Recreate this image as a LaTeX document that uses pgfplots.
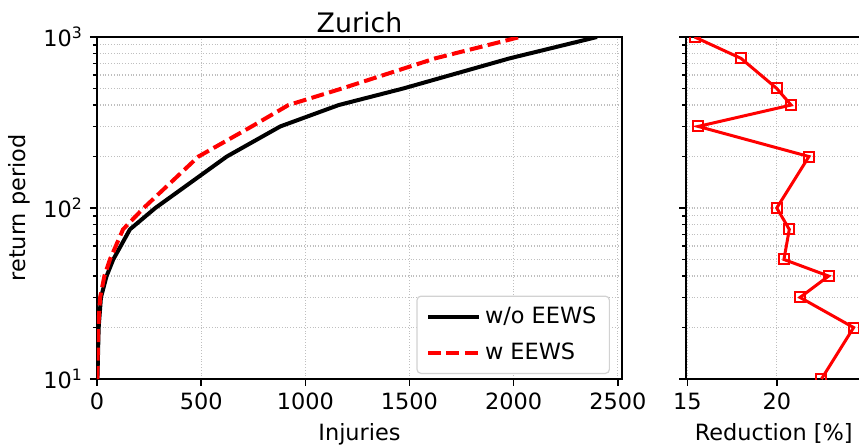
\documentclass[border=0pt]{standalone}
\usepackage{fontspec}
\setmainfont{DejaVu Sans}
\usepackage{pgfplots}
\pgfplotsset{compat=1.18}
\begin{document}
\begin{tikzpicture}
\pgfplotsset{
  every axis/.append style={
    scale only axis,
    font=\fontsize{11.2}{13}\selectfont,
    axis line style={line width=0.9pt, black},
    tick style={black, line width=0.8pt},
    major tick length=3.5pt,
    minor tick length=2pt,
    tick align=outside,
    tick pos=left,
    grid style={densely dotted, gray!50, line width=0.6pt},
    /pgf/number format/assume math mode=true,
    /pgf/number format/1000 sep={},
    ymode=log, ymin=10, ymax=1000,
    ytick={10,100,1000},
    ymajorgrids, yminorgrids,
    xmajorgrids,
  }
}
\path[use as bounding box] (0,0) rectangle (429.5pt,223.5pt);
\begin{axis}[
  at={(48.5pt,34pt)}, anchor=south west,
  width=262.5pt, height=171pt,
  xmin=0, xmax=2520,
  xtick={0,500,1000,1500,2000,2500},
  yticklabels={10\textsuperscript{1},10\textsuperscript{2},10\textsuperscript{3}},
  title={Zurich},
  title style={at={(rel axis cs:0.5,1)}, anchor=south, inner sep=0pt, yshift=-4pt, font=\fontsize{13.4}{15}\selectfont},
  xlabel={Injuries},
  ylabel={return period},
  legend cell align=left,
  legend image code/.code={\draw[#1] (0pt,0pt) -- (25.5pt,0pt);},
  legend style={at={(rel axis cs:1,0)}, anchor=south east, xshift=-6pt, yshift=2.5pt,
    draw=gray!35, line width=0.6pt, rounded corners=2pt, fill=white,
    font=\fontsize{11.2}{13}\selectfont, row sep=4pt, inner xsep=4.5pt, inner ysep=3.5pt},
  /tikz/every even column/.append style={column sep=5pt},
]
\addplot[black, line width=2pt] coordinates {
 (2,10) (8,20) (19,30) (46,40) (78,50) (158,75) (280,100) (623,200)
 (880,300) (1160,400) (1470,500) (1980,750) (2400,1000)};
\addlegendentry{w/o EEWS}
\addplot[red, line width=2pt, dash pattern=on 6.5pt off 2.7pt] coordinates {
 (1.5,10) (6,20) (15,30) (35.5,40) (62,50) (125,75) (224,100) (487,200)
 (743,300) (919,400) (1176,500) (1623,750) (2030,1000)};
\addlegendentry{w EEWS}
\end{axis}
\begin{axis}[
  at={(343pt,34pt)}, anchor=south west,
  width=87.75pt, height=171pt,
  xmin=14.92, xmax=24.74,
  xtick={15,20,25},
  yticklabels={},
  xlabel={Reduction [\%]},
  clip marker paths=true,
]
\addplot[red, line width=1.5pt, mark=square, mark size=2.5pt, mark options={solid, fill=white, line width=1pt}] coordinates {
 (15.4,1000) (18.0,750) (20.0,500) (20.8,400) (15.6,300) (21.8,200)
 (20.0,100) (20.7,75) (20.4,50) (22.9,40) (21.3,30) (24.3,20) (22.5,10)};
\end{axis}
\end{tikzpicture}
\end{document}
